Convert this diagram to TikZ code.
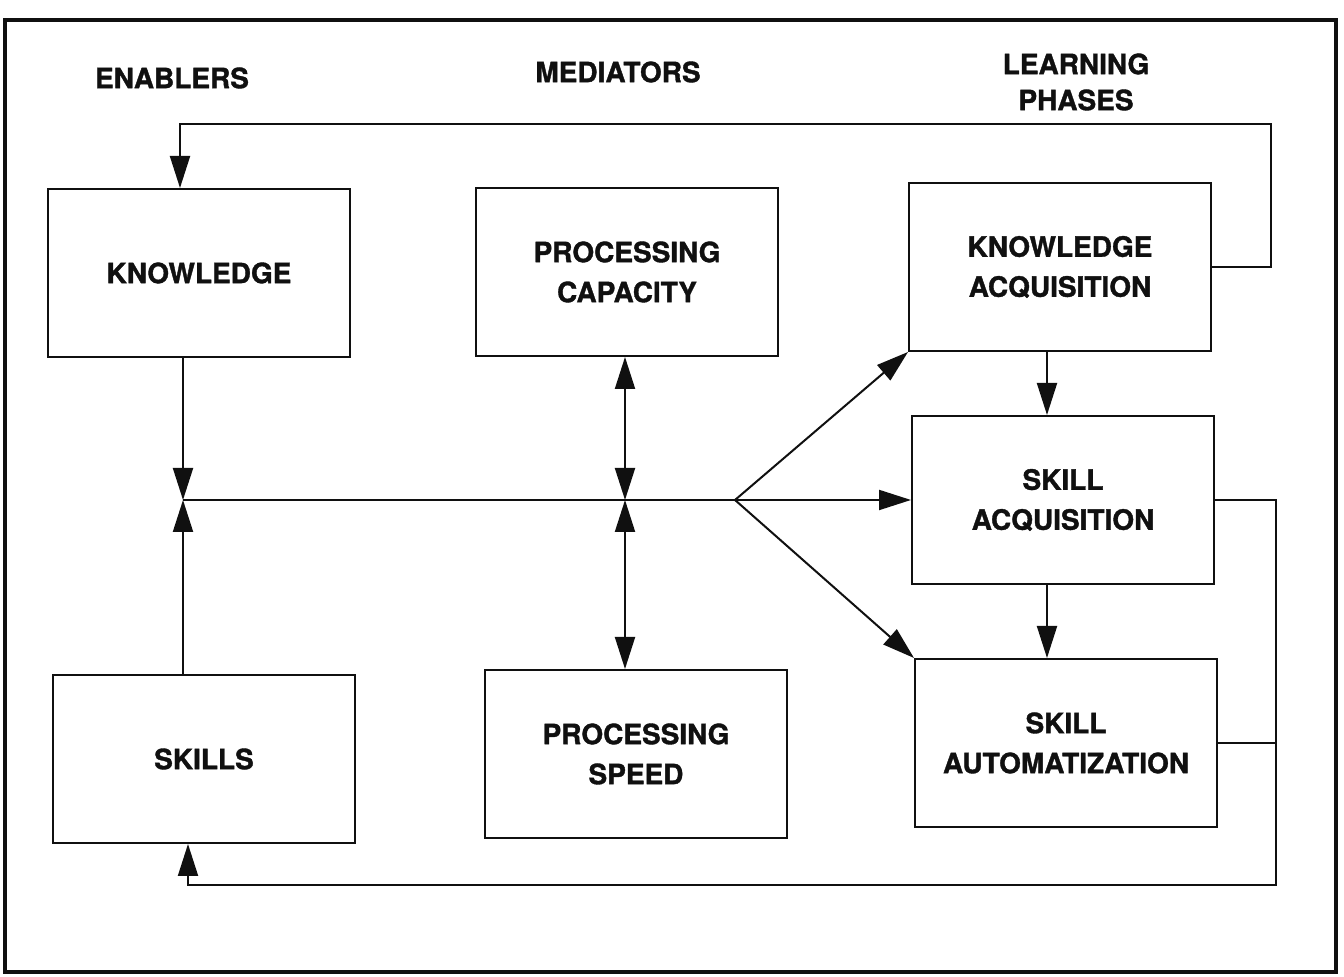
\documentclass[tikz,border=0pt]{standalone}
\usepackage{fontspec}
\setmainfont{TeX Gyre Heros}[BoldFeatures={FakeBold=1.3}]
\definecolor{inkDark}{HTML}{101010}
\usetikzlibrary{arrows.meta, positioning, calc}
\tikzset{
  phaseBox/.style={draw=inkDark, line width=1pt, minimum width=151pt, minimum height=84pt,
                   align=center, text=inkDark, font=\fontsize{14}{20}\selectfont\bfseries},
  headLabel/.style={align=center, text=inkDark, font=\fontsize{14}{18}\selectfont\bfseries},
  plainLine/.style={draw=inkDark, line width=1pt},
  flow/.style={plainLine, -{Triangle[length=16pt,width=10pt]}},
  flowBoth/.style={plainLine, {Triangle[length=16pt,width=10pt]}-{Triangle[length=16pt,width=10pt]}}
}

\begin{document}
\begin{tikzpicture}[x=0.5pt, y=0.5pt]
        \useasboundingbox (0,0) rectangle (1344,977);
        \draw[draw=inkDark, line width=2pt] (5,957) rectangle (1336,5);

        % column headings
        \node[headLabel] (hEnab) at (172,899) {ENABLERS};
        \node[headLabel] (hMed) at (618,905) {MEDIATORS};
        \node[headLabel] (hLearn) at (1076,895) {LEARNING\\PHASES};

        % enablers
        \node[phaseBox] (know) at (199,704) {KNOWLEDGE};
        \node[phaseBox] (skills) at (204,218) {SKILLS};

        % mediators
        \node[phaseBox] (cap) at (627,705) {PROCESSING\\CAPACITY};
        \node[phaseBox] (speed) at (636,223) {PROCESSING\\SPEED};

        % learning phases
        \node[phaseBox] (kacq) at (1060,710) {KNOWLEDGE\\ACQUISITION};
        \node[phaseBox] (sacq) at (1063,477) {SKILL\\ACQUISITION};
        \node[phaseBox] (sauto) at (1066,234) {SKILL\\AUTOMATIZATION};

        \coordinate (jLeft) at (183,477);
        \coordinate (jMid) at (625,477);
        \coordinate (fork) at (735,477);
        \coordinate (kTop) at (180,853);
        \coordinate (rBot) at (1276,92);
        \coordinate (lBot) at (188,92);

        % into the junctions
        \draw[flow] (know.south -| jLeft) -- (jLeft);
        \draw[flow] (skills.north -| jLeft) -- (jLeft);
        \draw[flowBoth] (cap.south -| jMid) -- (jMid);
        \draw[flowBoth] (jMid) -- (speed.north -| jMid);
        \draw[plainLine] (jLeft) -- (fork);

        % fork to the phases
        \draw[flow] (fork) -- (kacq.south west);
        \draw[flow] (fork) -- (sacq.west);
        \draw[flow] (fork) -- (sauto.north west);
        \draw[flow] (kacq.south -| 1047,0) -- (sacq.north -| 1047,0);
        \draw[flow] (sacq.south -| 1047,0) -- (sauto.north -| 1047,0);

        % feedback loops
        \draw[flow] (kacq.east) -- ++(59,0) |- (kTop) -- (kTop |- know.north);
        \draw[flow] (sacq.east) -| (rBot) -- (lBot) -- (lBot |- skills.south);
        \draw[plainLine] (sauto.east) -- (sauto.east -| rBot);
      \end{tikzpicture}
\end{document}
